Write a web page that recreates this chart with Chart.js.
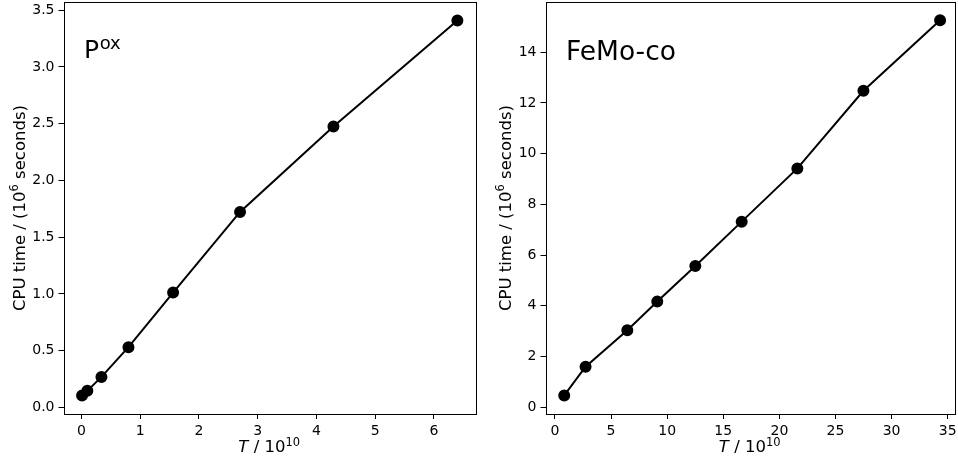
<!DOCTYPE html>
<html>
<head>
<meta charset="utf-8">
<script src="https://cdn.jsdelivr.net/npm/chart.js@4/dist/chart.umd.min.js"></script>
<style>
  html, body { margin: 0; padding: 0; background: #fff; }
  #wrap { position: relative; width: 958px; height: 464px; }
  .box { position: absolute; top: 0; width: 479px; height: 464px; }
</style>
</head>
<body>
<div id="wrap">
  <div class="box" style="left:0"><canvas id="c1" width="479" height="464"></canvas></div>
  <div class="box" style="left:479px"><canvas id="c2" width="479" height="464"></canvas></div>
</div>
<script>
// ---- data ----
const poxT   = [0.01, 0.10, 0.34, 0.80, 1.56, 2.70, 4.29, 6.40];
const poxCPU = [0.105, 0.145, 0.268, 0.530, 1.012, 1.722, 2.475, 3.410];
const femoT   = [0.83, 2.73, 6.45, 9.12, 12.51, 16.64, 21.60, 27.49, 34.32];
const femoCPU = [0.47, 1.60, 3.04, 4.17, 5.57, 7.32, 9.42, 12.48, 15.26];

const poxXTicks  = [0, 1, 2, 3, 4, 5, 6];
const poxYTicks  = [0, 0.5, 1.0, 1.5, 2.0, 2.5, 3.0, 3.5];
const femoXTicks = [0, 5, 10, 15, 20, 25, 30, 35];
const femoYTicks = [0, 2, 4, 6, 8, 10, 12, 14];

const poxLabelMain = 'P';
const poxLabelSup  = 'ox';
const femoLabel    = 'FeMo-co';

const xTitleVar = 'T';
const xTitleMid = ' / 10';
const xTitleSup = '10';
const yTitleMain = 'CPU time / (10';
const yTitleSup  = '6';
const yTitleEnd  = ' seconds)';

// ---- helpers ----
const FONT = '"DejaVu Sans", sans-serif';
const INK = '#000';

function drawRich(ctx, segs, x, y) {
  let total = 0;
  segs.forEach(s => { ctx.font = s.font; s.w = ctx.measureText(s.t).width; total += s.w; });
  let cx = x - total / 2;
  ctx.textAlign = 'left';
  ctx.textBaseline = 'alphabetic';
  segs.forEach(s => { ctx.font = s.font; ctx.fillText(s.t, cx, y + (s.dy || 0)); cx += s.w; });
}

const framePlugin = {
  id: 'frameAndTitles',
  afterDraw(chart, args, opts) {
    const ctx = chart.ctx;
    const a = chart.chartArea;
    ctx.save();
    ctx.strokeStyle = INK;
    ctx.lineWidth = 1;
    ctx.strokeRect(Math.round(a.left) + 0.5, Math.round(a.top) + 0.5,
                   Math.round(a.right - a.left), Math.round(a.bottom - a.top));
    ctx.fillStyle = INK;
    const tf = '16.5px ' + FONT;
    const tfi = 'italic 16.5px ' + FONT;
    const sf = '11.5px ' + FONT;
    // x title
    drawRich(ctx, [
      {t: xTitleVar, font: tfi},
      {t: xTitleMid, font: tf},
      {t: xTitleSup, font: sf, dy: -6.5}
    ], (a.left + a.right) / 2, 452);
    // y title
    ctx.save();
    ctx.translate(opts.yTitleX, (a.top + a.bottom) / 2);
    ctx.rotate(-Math.PI / 2);
    drawRich(ctx, [
      {t: yTitleMain, font: tf},
      {t: yTitleSup, font: sf, dy: -6.5},
      {t: yTitleEnd, font: tf}
    ], 0, 5.5);
    ctx.restore();
    // annotation
    const ax = a.left + 0.05 * (a.right - a.left);
    ctx.textAlign = 'left';
    ctx.textBaseline = 'alphabetic';
    if (opts.sup) {
      ctx.font = '25px ' + FONT;
      ctx.fillText(opts.main, ax, 58);
      const w = ctx.measureText(opts.main).width;
      ctx.font = '18px ' + FONT;
      ctx.fillText(opts.sup, ax + w + 0.5, 48.5);
    } else {
      ctx.font = '26.5px ' + FONT;
      ctx.fillText(opts.main, ax, 60);
    }
    ctx.restore();
  }
};

function makeChart(id, xs, ys, xTicks, yTicks, xMin, xMax, yMin, yMax, yAxisW, fmt, annot) {
  const pts = xs.map((x, i) => ({x: x, y: ys[i]}));
  const axisCommon = {
    type: 'linear',
    grid: { display: true, drawOnChartArea: false, drawTicks: true, tickLength: 5, color: INK, lineWidth: 1 },
    border: { display: false },
    title: { display: false }
  };
  return new Chart(document.getElementById(id), {
    type: 'scatter',
    data: { datasets: [{
      data: pts,
      showLine: true,
      borderColor: '#000',
      borderWidth: 2,
      backgroundColor: '#000',
      pointBackgroundColor: '#000',
      pointBorderColor: '#000',
      pointRadius: 5,
      pointHoverRadius: 5,
      tension: 0,
      clip: false
    }]},
    options: {
      responsive: false,
      animation: false,
      events: [],
      layout: { autoPadding: false, padding: { left: 0, right: 4, top: 2, bottom: 0 } },
      plugins: {
        legend: { display: false },
        tooltip: { enabled: false },
        frameAndTitles: annot
      },
      scales: {
        x: Object.assign({}, axisCommon, {
          position: 'bottom',
          min: xMin, max: xMax,
          afterBuildTicks: s => { s.ticks = xTicks.map(v => ({value: v})); },
          afterFit: s => { s.height = 50; s.paddingLeft = 0; s.paddingRight = 0; },
          ticks: { color: INK, font: { family: FONT, size: 14 }, padding: 4, maxRotation: 0,
                   callback: v => String(v) }
        }),
        y: Object.assign({}, axisCommon, {
          position: 'left',
          min: yMin, max: yMax,
          afterBuildTicks: s => { s.ticks = yTicks.map(v => ({value: v})); },
          afterFit: s => { s.width = yAxisW; s.paddingTop = 0; s.paddingBottom = 0; },
          ticks: { color: INK, font: { family: FONT, size: 14 }, padding: 4, callback: fmt }
        })
      }
    },
    plugins: [framePlugin]
  });
}

makeChart('c1', poxT, poxCPU, poxXTicks, poxYTicks, -0.306, 6.70, -0.059, 3.573, 63.5,
  v => Number(v).toFixed(1),
  { main: poxLabelMain, sup: poxLabelSup, yTitleX: 19 });

makeChart('c2', femoT, femoCPU, femoXTicks, femoYTicks, -0.84, 35.56, -0.264, 15.98, 66.5,
  v => String(v),
  { main: femoLabel, sup: null, yTitleX: 26 });
</script>
</body>
</html>
